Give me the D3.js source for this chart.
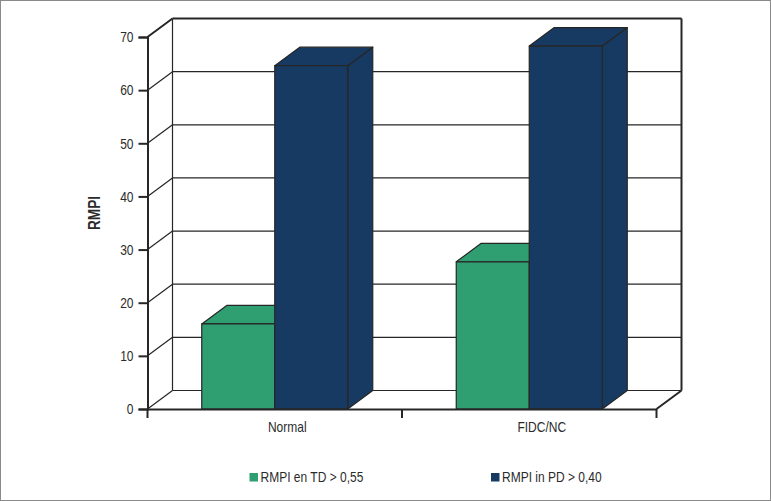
<!DOCTYPE html>
<html>
<head>
<meta charset="utf-8">
<script src="https://cdn.jsdelivr.net/npm/d3@7"></script>
<style>
html, body { margin: 0; padding: 0; background: #fff; }
svg { display: block; }
text { font-family: "Liberation Sans", Arial, sans-serif; fill: #2b2b2b; }
</style>
</head>
<body>
<div id="chart"></div>
<script>
var categories = ["Normal", "FIDC/NC"];
var series_names = ["RMPI en TD > 0,55", "RMPI in PD > 0,40"];
var series_td = [16, 27.7];
var series_pd = [64.6, 68.3];
var y_ticks = [0, 10, 20, 30, 40, 50, 60, 70];

var colors = ["#2f9e70", "#173a63"];
var dark = "#262626";
var font = '"Liberation Sans", Arial, sans-serif';
var width = 771, height = 501;
var depth_x = 25, depth_y = -18.5;

var svg = d3.select("#chart").append("svg")
	.attr("width", width)
	.attr("height", height);

// the reference type is a condensed face, no such font here so squeeze it
function squeeze(sel) {
	sel.each(function() {
		this.setAttribute("textLength", this.getComputedTextLength() * 0.8);
		this.setAttribute("lengthAdjust", "spacingAndGlyphs");
	});
}

// outer frame of the picture
svg.append("rect")
	.attr("x", 0.5).attr("y", 0.5)
	.attr("width", width - 1).attr("height", height - 1)
	.attr("fill", "#fff")
	.attr("stroke", "#8a8a8a");

var y = d3.scaleLinear().domain([0, 70]).range([409, 37]);
var x = d3.scaleBand().domain(categories).range([147.5, 656.5]);
var x_inner = d3.scaleBand().domain(series_names).range([-73, 73]);

var walls = svg.append("g").attr("fill", "none").attr("stroke", dark);

// grid on the side wall and the back wall
y_ticks.forEach(function(t) {
	walls.append("line")
		.attr("x1", x.range()[0]).attr("y1", y(t))
		.attr("x2", x.range()[0] + depth_x).attr("y2", y(t) + depth_y)
		.attr("stroke-width", t == 70 ? 2 : 1.2);
	walls.append("line")
		.attr("x1", x.range()[0] + depth_x).attr("y1", y(t) + depth_y)
		.attr("x2", x.range()[1] + depth_x).attr("y2", y(t) + depth_y)
		.attr("stroke-width", t == 70 ? 2 : 1.2);
});

walls.append("line")
	.attr("x1", x.range()[0] + depth_x).attr("y1", y(70) + depth_y)
	.attr("x2", x.range()[0] + depth_x).attr("y2", y(0) + depth_y)
	.attr("stroke-width", 1.2);
walls.append("line")
	.attr("x1", x.range()[1] + depth_x).attr("y1", y(70) + depth_y)
	.attr("x2", x.range()[1] + depth_x).attr("y2", y(0) + depth_y)
	.attr("stroke-width", 2);
walls.append("line")
	.attr("x1", x.range()[1]).attr("y1", y(0))
	.attr("x2", x.range()[1] + depth_x).attr("y2", y(0) + depth_y)
	.attr("stroke-width", 2);

// bars, one box per value
function draw_box(cat, name, value, color) {
	var x0 = x(cat) + x.bandwidth() / 2 + x_inner(name);
	var x1 = x0 + x_inner.bandwidth();
	var top = y(value), base = y(0);
	var box = svg.append("g").attr("stroke", dark).attr("stroke-width", 1.2).attr("stroke-linejoin", "round");

	box.append("path").attr("fill", color)
		.attr("d", "M" + x1 + "," + base + "L" + (x1 + depth_x) + "," + (base + depth_y) +
			"L" + (x1 + depth_x) + "," + (top + depth_y) + "L" + x1 + "," + top + "Z");
	box.append("path").attr("fill", color)
		.attr("d", "M" + x0 + "," + top + "L" + (x0 + depth_x) + "," + (top + depth_y) +
			"L" + (x1 + depth_x) + "," + (top + depth_y) + "L" + x1 + "," + top + "Z");
	box.append("rect").attr("fill", color)
		.attr("x", x0).attr("y", top)
		.attr("width", x1 - x0).attr("height", base - top);
}

categories.forEach(function(cat, i) {
	draw_box(cat, series_names[0], series_td[i], colors[0]);
	draw_box(cat, series_names[1], series_pd[i], colors[1]);
});

// axes
var y_axis = svg.append("g")
	.attr("transform", "translate(" + x.range()[0] + ",0)")
	.call(d3.axisLeft(y).tickValues(y_ticks).tickSize(9).tickPadding(5));
y_axis.select(".domain").attr("stroke", dark).attr("stroke-width", 2);
y_axis.selectAll(".tick line").attr("stroke", dark).attr("stroke-width", 2);
y_axis.selectAll("text").attr("font-size", 15).attr("font-family", font).call(squeeze);

var x_axis = svg.append("g")
	.attr("transform", "translate(0," + y(0) + ")")
	.call(d3.axisBottom(x).tickSize(0).tickPadding(12));
x_axis.select(".domain").attr("stroke", dark).attr("stroke-width", 2);
// labels sit half a depth to the right of the band centre, like the reference
x_axis.selectAll("text")
	.attr("font-size", 15)
	.attr("font-family", font)
	.attr("dx", depth_x / 2)
	.call(squeeze);

// category separators sit between the bands, not on them
var edges = [x.range()[0], x(categories[1]), x.range()[1]];
svg.append("g").selectAll("line").data(edges).join("line")
	.attr("x1", function(d) { return d; })
	.attr("x2", function(d) { return d; })
	.attr("y1", y(0))
	.attr("y2", y(0) + 9)
	.attr("stroke", dark)
	.attr("stroke-width", 2);

svg.append("text")
	.attr("transform", "translate(99.5,213) rotate(-90)")
	.attr("text-anchor", "middle")
	.attr("font-size", 17)
	.attr("font-weight", "bold")
	.text("RMPI")
	.call(squeeze);

// legend
var legend_x = [249.5, 491];
series_names.forEach(function(name, i) {
	svg.append("rect")
		.attr("x", legend_x[i]).attr("y", 473)
		.attr("width", 8.5).attr("height", 8.5)
		.attr("fill", colors[i]);
	svg.append("text")
		.attr("x", legend_x[i] + 11).attr("y", 482)
		.attr("font-size", 15)
		.text(name)
		.call(squeeze);
});
</script>
</body>
</html>
